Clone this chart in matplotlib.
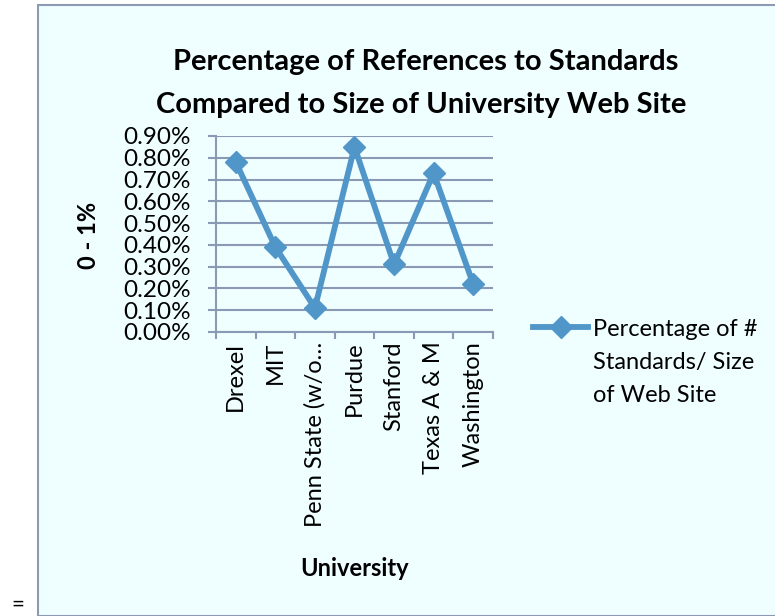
import matplotlib.pyplot as plt
from matplotlib.patches import Rectangle
from matplotlib.ticker import FixedLocator, PercentFormatter

# data
universities = ["Drexel", "MIT", "Penn State (w/o…", "Purdue", "Stanford",
                "Texas A & M", "Washington"]
pct_standards = [0.0078, 0.0039, 0.0011, 0.0085, 0.0031, 0.0073, 0.0022]
y_ticks = [i / 1000 for i in range(10)]

W, H = 775, 616
plt.rcParams['font.family'] = ['Lato', 'DejaVu Sans']

fig = plt.figure(figsize=(W / 100, H / 100), dpi=100)
fig.patch.set_facecolor('white')

# chart area background + border
bg = Rectangle((38 / W, 0), 1.0, 1 - 5 / H, transform=fig.transFigure,
               facecolor='#EFFEFF', edgecolor='#8C9BB3', linewidth=1.5, zorder=-5)
fig.patches.append(bg)

fig.text(18 / W, 1 / H, "=", ha='center', va='bottom', fontsize=16, color='black')

ax = fig.add_axes([216 / W, 1 - 332 / H, 277 / W, 196 / H])
ax.set_facecolor('none')

x = list(range(len(universities)))
line, = ax.plot(x, pct_standards, color='#5096C8', linewidth=4.2, marker='D',
                markersize=11, markeredgecolor='#5096C8', markerfacecolor='#5096C8',
                label="Percentage of #", zorder=3)

ax.set_xlim(-0.5, len(universities) - 0.5)
ax.set_ylim(0, 0.009)
ax.yaxis.set_major_locator(FixedLocator(y_ticks))
ax.yaxis.set_major_formatter(PercentFormatter(1.0, decimals=2))
ax.grid(axis='y', color='#8A9AB5', linewidth=1.5)
ax.set_axisbelow(True)

ax.set_xticks(x)
ax.set_xticklabels(universities, rotation=90, fontsize=17)
ax.set_xticks([i - 0.5 for i in range(len(universities) + 1)], minor=True)
ax.tick_params(axis='x', which='major', length=0, pad=7)
ax.tick_params(axis='x', which='minor', length=5, width=1.5, color='#8A9AB5', direction='out')
ax.tick_params(axis='y', length=6, width=1.5, color='#8A9AB5', labelsize=17.5, pad=12)

for s in ['top', 'right']:
    ax.spines[s].set_visible(False)
for s in ['left', 'bottom']:
    ax.spines[s].set_color('#8A9AB5')
    ax.spines[s].set_linewidth(1.5)

fig.text(89 / W, 1 - 235 / H, "0 - 1%", rotation=90, ha='center', va='center',
         fontsize=17, fontweight='bold')
fig.text(355 / W, 1 - 569 / H, "University", ha='center', va='center',
         fontsize=17, fontweight='bold')

fig.text(426 / W, 1 - 62 / H, "Percentage of References to Standards",
         ha='center', va='center', fontsize=21, fontweight='bold')
fig.text(421 / W, 1 - 105 / H, "Compared to Size of University Web Site",
         ha='center', va='center', fontsize=21, fontweight='bold')

fig.legend(handles=[line], loc='center left', bbox_to_anchor=(533 / W, 1 - 329 / H),
           frameon=False, fontsize=17, handlelength=2.35, handletextpad=0.2,
           borderpad=0, borderaxespad=0)
fig.text(593 / W, 1 - 363 / H, "Standards/ Size", ha='left', va='center', fontsize=17)
fig.text(593 / W, 1 - 395 / H, "of Web Site", ha='left', va='center', fontsize=17)

fig.savefig("out.png", dpi=100)
